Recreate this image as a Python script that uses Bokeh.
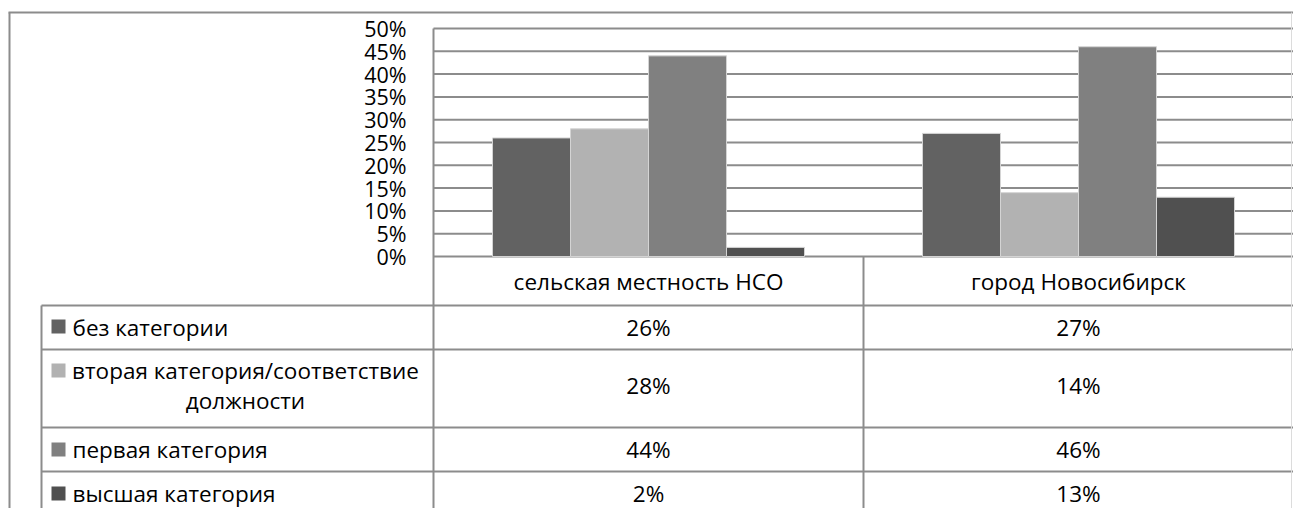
import numpy as np
from bokeh.plotting import figure
from bokeh.models import Range1d, LinearAxis, FixedTicker, PrintfTickFormatter, AllLabels
from bokeh.core.properties import value
from bokeh.embed import file_html
from bokeh.resources import INLINE

# ---------------- data ----------------
categories = ["сельская местность НСО", "город Новосибирск"]
series_names = ["без категории", "вторая категория/соответствие\nдолжности",
                "первая категория", "высшая категория"]
bez_kategorii = [26, 27]
vtoraya = [28, 14]
pervaya = [44, 46]
vysshaya = [2, 13]
series_values = [bez_kategorii, vtoraya, pervaya, vysshaya]
colors = ["#626262", "#b2b2b2", "#808080", "#505050"]
y_ticks = [0, 5, 10, 15, 20, 25, 30, 35, 40, 45, 50]

# ---------------- layout helpers (page pixel -> data) ----------------
PLOT_LEFT = 433.0      # x of category axis start
CAT_W = 430.0          # px per category
ZERO_Y = 256.0         # px of 0%
PX_PER_PCT = 4.56


def dx(px):
    return (px - PLOT_LEFT) / CAT_W


def dy(py):
    return (ZERO_Y - py) / PX_PER_PCT


W, H = 1293, 508
p = figure(width=W, height=H, output_backend="svg", toolbar_location=None,
           x_range=Range1d(dx(0), dx(W)), y_range=Range1d(dy(H), dy(0)),
           x_axis_location=None, y_axis_location=None,
           min_border=0, min_border_left=0, min_border_right=0,
           min_border_top=0, min_border_bottom=0)
p.outline_line_color = None
p.xgrid.visible = False
p.ygrid.visible = False
p.background_fill_color = "white"
p.border_fill_color = "white"

LINE = "#8c8c8c"
RIGHT = dx(1293)

# gridlines
p.segment(x0=[0] * len(y_ticks), x1=[RIGHT] * len(y_ticks), y0=y_ticks, y1=y_ticks,
          line_color=LINE, line_width=2)

# bars
BW = 78.0 / CAT_W
xc = np.arange(len(categories)) + 0.5
for j, (vals, col) in enumerate(zip(series_values, colors)):
    off = (j - (len(series_values) - 1) / 2) * BW
    p.vbar(x=xc + off, top=vals, bottom=0, width=BW, fill_color=col,
           line_color="#d4d4d4", line_width=1)

# y axis (pinned)
yaxis = LinearAxis(fixed_location=0, ticker=FixedTicker(ticks=y_ticks),
                   formatter=PrintfTickFormatter(format="%d%%"),
                   major_label_policy=AllLabels())
yaxis.axis_line_color = None
yaxis.major_tick_line_color = None
yaxis.minor_tick_line_color = None
yaxis.major_label_text_font = "Open Sans"
yaxis.major_label_text_font_size = "21.5px"
yaxis.major_label_text_color = "black"
yaxis.major_label_standoff = 21
p.add_layout(yaxis, "left")

# table lines
row_lines_px = [305, 349, 427, 471]
BOTTOM = dy(508)
# horizontal
p.segment(x0=[dx(8)], x1=[RIGHT], y0=[dy(12)], y1=[dy(12)], line_color=LINE, line_width=2)
p.segment(x0=[dx(41)] * len(row_lines_px), x1=[RIGHT] * len(row_lines_px),
          y0=[dy(v) for v in row_lines_px], y1=[dy(v) for v in row_lines_px],
          line_color=LINE, line_width=2)
# vertical
p.segment(x0=[dx(9), dx(41), 0, 1], x1=[dx(9), dx(41), 0, 1],
          y0=[dy(12), dy(305), 50, 0], y1=[BOTTOM] * 4,
          line_color=LINE, line_width=2)
p.segment(x0=[dx(1291)], x1=[dx(1291)], y0=[dy(12)], y1=[BOTTOM],
          line_color="#dcdcdc", line_width=1)

FONT = value("Open Sans")
FS = value("22.5px")

# category labels
p.text(x=list(xc), y=[dy(281)] * len(categories), text=categories,
       text_font=FONT, text_font_size=FS, text_align="center",
       text_baseline="middle", text_color="black")

# legend rows
row_center_px = [327, 385, 449, 493]
square_px = [326, 370, 449, 493]
p.scatter(x=[dx(58)] * 4, y=[dy(v) for v in square_px], marker="square", size=14,
          fill_color=colors, line_color=None)
for j, name in enumerate(series_names):
    if "\n" in name:
        lines = name.split("\n")
        p.text(x=[dx(245)] * len(lines), y=[dy(370), dy(400)], text=lines,
               text_font=FONT, text_font_size=FS, text_align="center",
               text_baseline="middle", text_color="black")
    else:
        p.text(x=[dx(72)], y=[dy(row_center_px[j])], text=[name], text_font=FONT,
               text_font_size=FS, text_align="left", text_baseline="middle",
               text_color="black")
    p.text(x=list(xc), y=[dy(row_center_px[j])] * len(categories),
           text=[f"{v}%" for v in series_values[j]], text_font=FONT,
           text_font_size=FS, text_align="center", text_baseline="middle",
           text_color="black")

open("out.html", "w").write(file_html(p, INLINE))
